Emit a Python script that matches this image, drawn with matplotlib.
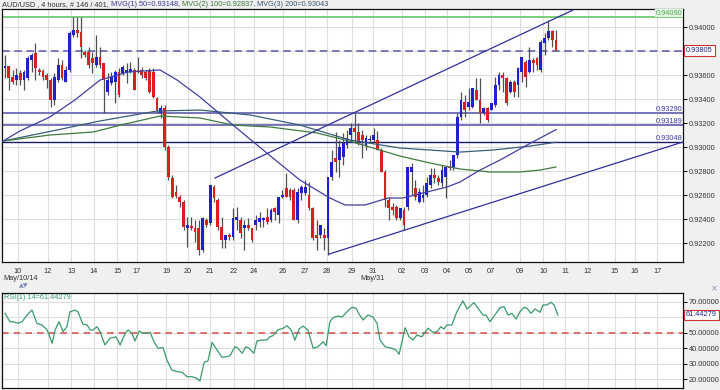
import matplotlib
matplotlib.use('Agg')
import matplotlib.pyplot as plt
import matplotlib.transforms as mtransforms
import numpy as np

# ---------------- data ----------------
opens = [0.93661, 0.93678, 0.93586, 0.93561, 0.93620, 0.93561, 0.93578, 0.93728, 0.93786, 0.93645,
         0.93636, 0.93603, 0.93561, 0.93395, 0.93561, 0.93686, 0.93545, 0.93645, 0.93936, 0.93978,
         0.93961, 0.93795, 0.93795, 0.93745, 0.93686, 0.93753, 0.93703, 0.93461, 0.93536, 0.93545,
         0.93628, 0.93620, 0.93620, 0.93628, 0.93645, 0.93645, 0.93645, 0.93628, 0.93645, 0.93628,
         0.93411, 0.93286, 0.93328, 0.93003, 0.92745, 0.92628, 0.92586, 0.92545, 0.92328, 0.92345,
         0.92328, 0.92328, 0.92145, 0.92395, 0.92370, 0.92670, 0.92561, 0.92336, 0.92228, 0.92270,
         0.92253, 0.92395, 0.92395, 0.92328, 0.92353, 0.92328, 0.92353, 0.92378, 0.92395, 0.92420,
         0.92395, 0.92495, 0.92436, 0.92586, 0.92661, 0.92645, 0.92645, 0.92395, 0.92620, 0.92620,
         0.92603, 0.92495, 0.92270, 0.92270, 0.92270, 0.92245, 0.92753, 0.92911, 0.92895, 0.92920,
         0.93020, 0.93103, 0.93161, 0.93128, 0.93103, 0.93020, 0.93061, 0.93061, 0.93061, 0.92978,
         0.92795, 0.92561, 0.92503, 0.92503, 0.92411, 0.92478, 0.92503, 0.92795, 0.92661, 0.92545,
         0.92578, 0.92603, 0.92686, 0.92770, 0.92745, 0.92703, 0.92753, 0.92836, 0.92828, 0.92936,
         0.93253, 0.93378, 0.93336, 0.93336, 0.93478, 0.93395, 0.93286, 0.93328, 0.93311, 0.93353,
         0.93520, 0.93603, 0.93578, 0.93461, 0.93545, 0.93520, 0.93628, 0.93711, 0.93628, 0.93728,
         0.93745, 0.93645, 0.93870, 0.93911, 0.93970, 0.93895]
highs = [0.93770, 0.93678, 0.93645, 0.93661, 0.93645, 0.93645, 0.93761, 0.93786, 0.93870, 0.93661,
         0.93653, 0.93620, 0.93578, 0.93620, 0.93745, 0.93728, 0.93678, 0.93970, 0.94086, 0.94086,
         0.94086, 0.93811, 0.93836, 0.93795, 0.93936, 0.93836, 0.93703, 0.93620, 0.93628, 0.93645,
         0.93661, 0.93686, 0.93703, 0.93711, 0.93661, 0.93753, 0.93670, 0.93645, 0.93661, 0.93661,
         0.93420, 0.93353, 0.93353, 0.93020, 0.92770, 0.92686, 0.92603, 0.92561, 0.92420, 0.92420,
         0.92395, 0.92395, 0.92420, 0.92411, 0.92686, 0.92686, 0.92578, 0.92420, 0.92270, 0.92286,
         0.92495, 0.92503, 0.92420, 0.92395, 0.92411, 0.92328, 0.92436, 0.92461, 0.92420, 0.92495,
         0.92495, 0.92503, 0.92586, 0.92645, 0.92786, 0.92661, 0.92661, 0.92661, 0.92686, 0.92728,
         0.92711, 0.92503, 0.92395, 0.92353, 0.92328, 0.92753, 0.92978, 0.93128, 0.93061, 0.93120,
         0.93145, 0.93203, 0.93286, 0.93203, 0.93145, 0.93103, 0.93103, 0.93161, 0.93136, 0.92995,
         0.92811, 0.92586, 0.92536, 0.92520, 0.92495, 0.92503, 0.92836, 0.92870, 0.92728, 0.92661,
         0.92686, 0.92753, 0.92828, 0.92828, 0.92770, 0.92853, 0.92836, 0.92895, 0.92936, 0.93286,
         0.93461, 0.93436, 0.93495, 0.93495, 0.93578, 0.93578, 0.93336, 0.93336, 0.93370, 0.93586,
         0.93628, 0.93628, 0.93586, 0.93561, 0.93561, 0.93670, 0.93753, 0.93728, 0.93836, 0.93745,
         0.93753, 0.93895, 0.93953, 0.94061, 0.93978, 0.93978]
lows = [0.93578, 0.93478, 0.93528, 0.93520, 0.93520, 0.93478, 0.93561, 0.93628, 0.93561, 0.93603,
        0.93561, 0.93495, 0.93336, 0.93353, 0.93545, 0.93561, 0.93545, 0.93628, 0.93920, 0.93920,
        0.93745, 0.93753, 0.93661, 0.93620, 0.93670, 0.93661, 0.93286, 0.93436, 0.93520, 0.93370,
        0.93420, 0.93603, 0.93536, 0.93620, 0.93478, 0.93620, 0.93578, 0.93561, 0.93453, 0.93411,
        0.93286, 0.93245, 0.92978, 0.92728, 0.92578, 0.92578, 0.92503, 0.92311, 0.92170, 0.92311,
        0.92211, 0.92103, 0.92128, 0.92336, 0.92353, 0.92545, 0.92311, 0.92161, 0.92161, 0.92228,
        0.92228, 0.92311, 0.92245, 0.92145, 0.92311, 0.92211, 0.92311, 0.92336, 0.92336, 0.92361,
        0.92378, 0.92395, 0.92370, 0.92578, 0.92586, 0.92561, 0.92395, 0.92370, 0.92561, 0.92603,
        0.92478, 0.92228, 0.92145, 0.92245, 0.92145, 0.92103, 0.92728, 0.92795, 0.92753, 0.92853,
        0.92995, 0.93061, 0.93036, 0.93020, 0.92911, 0.92978, 0.93036, 0.93045, 0.92978, 0.92795,
        0.92503, 0.92395, 0.92436, 0.92395, 0.92395, 0.92311, 0.92478, 0.92603, 0.92561, 0.92536,
        0.92545, 0.92586, 0.92661, 0.92703, 0.92686, 0.92670, 0.92578, 0.92811, 0.92811, 0.92911,
        0.93228, 0.93253, 0.93311, 0.93328, 0.93395, 0.93203, 0.93270, 0.93211, 0.93311, 0.93336,
        0.93478, 0.93461, 0.93353, 0.93453, 0.93420, 0.93420, 0.93545, 0.93503, 0.93620, 0.93628,
        0.93645, 0.93628, 0.93770, 0.93895, 0.93836, 0.93803]
closes = [0.93678, 0.93578, 0.93545, 0.93603, 0.93561, 0.93628, 0.93745, 0.93770, 0.93661, 0.93628,
          0.93586, 0.93561, 0.93395, 0.93586, 0.93686, 0.93578, 0.93645, 0.93953, 0.93978, 0.93953,
          0.93836, 0.93770, 0.93686, 0.93703, 0.93753, 0.93686, 0.93561, 0.93561, 0.93586, 0.93628,
          0.93436, 0.93670, 0.93645, 0.93653, 0.93478, 0.93628, 0.93603, 0.93578, 0.93461, 0.93420,
          0.93311, 0.93328, 0.93003, 0.92753, 0.92586, 0.92595, 0.92545, 0.92336, 0.92353, 0.92328,
          0.92295, 0.92145, 0.92411, 0.92353, 0.92686, 0.92578, 0.92336, 0.92228, 0.92270, 0.92253,
          0.92411, 0.92420, 0.92286, 0.92353, 0.92328, 0.92228, 0.92395, 0.92411, 0.92411, 0.92378,
          0.92478, 0.92461, 0.92586, 0.92603, 0.92586, 0.92586, 0.92395, 0.92628, 0.92670, 0.92670,
          0.92495, 0.92245, 0.92245, 0.92353, 0.92245, 0.92753, 0.92878, 0.92878, 0.93003, 0.93036,
          0.93078, 0.93161, 0.93128, 0.93045, 0.93061, 0.93078, 0.93070, 0.93103, 0.92978, 0.92795,
          0.92561, 0.92495, 0.92478, 0.92411, 0.92495, 0.92353, 0.92836, 0.92836, 0.92586, 0.92628,
          0.92603, 0.92703, 0.92770, 0.92745, 0.92711, 0.92811, 0.92836, 0.92828, 0.92936, 0.93253,
          0.93395, 0.93311, 0.93378, 0.93495, 0.93395, 0.93286, 0.93328, 0.93228, 0.93370, 0.93520,
          0.93603, 0.93578, 0.93370, 0.93545, 0.93461, 0.93661, 0.93753, 0.93586, 0.93728, 0.93703,
          0.93686, 0.93878, 0.93911, 0.93970, 0.93895, 0.93805]

# moving averages (sampled along the drawn curves: bar position, value)
ma50_pos = [-0.5, 3.9, 11.8, 18.4, 25.0, 32.4, 40.8, 45.3, 51.3, 60.0, 68.9, 77.6, 85.5, 89.5,
            94.7, 100.8, 104.7, 116.3, 119.7, 125.0, 130.3, 137.4, 145.0]
ma50_val = [0.93053, 0.93136, 0.93253, 0.93395, 0.93561, 0.93628, 0.93645, 0.93561, 0.93420,
            0.93186, 0.92953, 0.92728, 0.92578, 0.92520, 0.92520, 0.92578, 0.92578, 0.92670,
            0.92711, 0.92811, 0.92895, 0.93020, 0.93148]
ma100_pos = [-0.5, 11.8, 23.2, 31.6, 40.8, 51.3, 60.0, 69.7, 82.1, 91.6, 103.9, 111.8, 119.7,
             127.6, 135.5, 140.8, 145.0]
ma100_val = [0.93053, 0.93103, 0.93128, 0.93195, 0.93261, 0.93245, 0.93186, 0.93170, 0.93120,
             0.93045, 0.92928, 0.92870, 0.92820, 0.92795, 0.92795, 0.92811, 0.92837]
ma200_pos = [-0.5, 13.7, 25.0, 40.0, 51.3, 64.5, 77.6, 90.8, 103.9, 119.7, 128.4, 138.2, 145.0]
ma200_val = [0.93053, 0.93145, 0.93220, 0.93303, 0.93311, 0.93270, 0.93186, 0.93061, 0.92995,
             0.92961, 0.92978, 0.93011, 0.93043]

# trend channel (bar position, price)
upper_pos = [55.26, 149.5]
upper_val = [0.92745, 0.94145]
lower_pos = [85.26, 178.4]
lower_val = [0.92111, 0.93045]

# horizontal levels
level_green = 0.94090
level_last = 0.93805
levels_blue = [0.93290, 0.93189]
level_navy = 0.93048

# RSI (bar position, value)
rsi_pos = [0, 1.3, 2.1, 3.4, 4.5, 5.8, 7.1, 8.4, 9.7, 11.1, 12.4, 13.2, 14.2, 15.3, 16.3, 17.1,
           18.4, 19.2, 20.5, 21.6, 22.4, 23.2, 24.2, 25.0, 26.3, 27.6, 29.2, 30.3, 31.6, 32.4,
           33.4, 34.2, 35.3, 36.3, 37.4, 38.2, 39.2, 40.3, 41.6, 42.6, 43.9, 45.3, 46.6, 47.9,
           49.2, 50.5, 51.3, 52.4, 53.4, 54.5, 55.5, 57.1, 58.4, 59.2, 60.5, 61.3, 62.4, 63.4,
           64.2, 65.5, 66.3, 67.6, 68.9, 69.7, 70.5, 71.8, 73.2, 74.2, 75.3, 76.3, 77.4, 78.4,
           79.7, 81.1, 82.4, 83.7, 84.5, 85.5, 86.3, 87.6, 88.7, 90.0, 91.3, 92.4, 93.2, 94.2,
           95.5, 96.8, 97.9, 98.7, 100.0, 101.8, 102.9, 103.7, 105.3, 106.3, 107.4, 108.4, 109.7,
           111.3, 112.6, 113.7, 114.7, 115.5, 116.3, 117.6, 118.9, 120.5, 121.6, 123.4, 124.5,
           125.8, 126.6, 127.6, 128.9, 130.3, 131.3, 132.4, 133.4, 134.5, 135.5, 136.6, 137.4,
           138.4, 139.5, 140.8, 141.6, 142.6, 143.7, 144.5, 145.5]
rsi_val = [62.5, 57.1, 57.1, 56.1, 57.1, 61.4, 64.6, 56.1, 55.0, 51.8, 43.2, 51.8, 57.1, 50.7,
           53.9, 63.5, 64.6, 63.5, 55.6, 55.0, 51.8, 51.8, 53.9, 50.7, 42.1, 46.4, 47.4, 42.1,
           49.6, 51.8, 49.6, 44.7, 51.1, 49.6, 49.6, 50.3, 44.2, 40.0, 40.4, 32.4, 26.0, 24.9,
           24.5, 21.7, 21.7, 20.6, 18.9, 30.9, 31.8, 43.8, 40.0, 34.2, 34.6, 35.2, 41.0, 40.0,
           36.8, 41.0, 40.0, 36.8, 44.7, 45.3, 45.3, 47.4, 48.1, 51.8, 52.9, 54.5, 51.8, 45.3,
           52.4, 54.3, 51.8, 40.0, 41.0, 44.2, 41.6, 57.1, 59.7, 60.8, 60.1, 63.5, 66.4, 65.7,
           61.9, 58.2, 61.4, 60.3, 56.1, 45.3, 41.0, 40.0, 38.9, 36.1, 53.2, 47.4, 45.3, 48.5,
           47.4, 52.9, 50.3, 50.7, 53.9, 52.4, 55.0, 55.0, 63.5, 70.5, 65.3, 69.4, 65.7, 61.4,
           61.4, 57.1, 61.4, 66.1, 66.8, 61.4, 62.5, 58.8, 63.5, 66.4, 65.7, 62.5, 65.3, 63.2,
           67.9, 67.9, 69.6, 67.9, 61.44]
rsi_last = 61.44279

# x-axis day labels
day_pos = [3.4, 11.3, 17.4, 23.4, 29.5, 34.7, 42.4, 48.2, 53.9, 60.3, 65.5, 73.2, 78.9, 84.7,
           91.3, 96.8, 104.5, 110.5, 116.3, 122.1, 127.9, 135.5, 141.6, 147.4, 153.4, 160.5,
           165.8, 171.6]
day_labels = ['10', '12', '13', '14', '15', '17', '19', '20', '21', '22', '24', '26', '27', '28',
              '29', '31', '02', '03', '04', '05', '07', '09', '10', '11', '12', '15', '16', '17']

price_ticks = [0.922, 0.924, 0.926, 0.928, 0.930, 0.932, 0.934, 0.936, 0.938, 0.940]
rsi_ticks = [20, 30, 40, 50, 60, 70]

# ---------------- drawing ----------------
FONT = ['Liberation Sans', 'DejaVu Sans']
plt.rcParams['font.family'] = FONT
FS = 5.3

W, H = 720, 390
fig = plt.figure(figsize=(7.2, 3.9), dpi=100, facecolor='#f0f0f0')
ax = fig.add_axes([2 / W, 1 - 262 / H, 681 / W, 253 / H])
rax = fig.add_axes([2 / W, 1 - 388 / H, 681 / W, 95 / H])

o = np.array(opens); h = np.array(highs); l = np.array(lows); c = np.array(closes)
idx = np.arange(len(o))
up = c >= o
body_col = np.where(up, '#2020c8', '#d82020')
bottom = np.minimum(o, c)
height = np.maximum(np.abs(c - o), 0.000025)

ax.set_facecolor('white')
ax.set_xlim(-0.79, 178.42)
ax.set_ylim(0.92045, 0.94153)
ax.set_xticks(day_pos)
ax.set_xticklabels(day_labels)
ax.set_yticks(price_ticks)
ax.set_yticklabels(['' if abs(v - 0.938) < 1e-9 else f'{v:.5f}' for v in price_ticks])
ax.yaxis.tick_right()
ax.tick_params(axis='y', length=3, width=0.7, pad=1, labelsize=FS, labelcolor='#333333')
ax.tick_params(axis='x', length=0, pad=4, labelsize=FS, labelcolor='#333333')
ax.grid(True, color='#dedede', lw=0.8)
ax.set_axisbelow(True)
for s in ax.spines.values():
    s.set_color('#111111'); s.set_linewidth(0.9)

# horizontal levels
ax.axhline(level_green, color='#7ccc7c', lw=1.4, zorder=2)
ax.axhline(level_last, color='#5a5aae', lw=1.1, ls=(0, (5, 3)), zorder=2)
for lv in levels_blue:
    ax.axhline(lv, color='#7474b8', lw=1.4, zorder=2)
ax.axhline(level_navy, color='#1c1c66', lw=1.0, zorder=2)

# candles
ax.vlines(idx, l, h, color='#505050', lw=0.9, zorder=3)
ax.bar(idx, height, width=0.72, bottom=bottom, color=body_col, lw=0, zorder=4)

# moving averages
ax.plot(ma200_pos, ma200_val, color='#3a5f7a', lw=0.9, zorder=5)
ax.plot(ma100_pos, ma100_val, color='#3f7a3f', lw=0.9, zorder=5)
ax.plot(ma50_pos, ma50_val, color='#4040a0', lw=0.9, zorder=5)

# trend channel
ax.plot(upper_pos, upper_val, color='#30309a', lw=0.9, zorder=5)
ax.plot(lower_pos, lower_val, color='#30309a', lw=0.9, zorder=5, clip_on=False)

# level labels inside panel
xr = 178.2
ax.text(xr, level_green, f'{level_green:.5f}', ha='right', va='bottom', fontsize=FS,
        color='#4caa4c', zorder=6,
        bbox=dict(boxstyle='square,pad=0.1', facecolor='#e6f4e6', edgecolor='none'))
for lv in levels_blue + [level_navy]:
    ax.text(xr, lv, f'{lv:.5f}', ha='right', va='bottom', fontsize=FS, color='#3a3aa8', zorder=6)

tr = mtransforms.blended_transform_factory(ax.transAxes, ax.transData)
ax.text(1.0045, level_last, f'{level_last:.5f}', transform=tr, ha='left', va='center',
        fontsize=FS, color='#22228a', clip_on=False,
        bbox=dict(boxstyle='square,pad=0.25', facecolor='white', edgecolor='#cc3333', lw=0.8))

# RSI panel
rax.set_facecolor('white')
rax.set_xlim(-0.79, 178.42)
rax.set_ylim(14.4, 75.6)
rax.set_xticks(day_pos)
rax.set_xticklabels([])
rax.set_yticks(rsi_ticks)
rax.set_yticklabels(['' if v == 60 else f'{v:.5f}' for v in rsi_ticks])
rax.yaxis.tick_right()
rax.tick_params(axis='y', length=3, width=0.7, pad=1, labelsize=FS, labelcolor='#333333')
rax.tick_params(axis='x', length=0)
rax.grid(True, color='#dedede', lw=0.8)
rax.set_axisbelow(True)
for s in rax.spines.values():
    s.set_color('#111111'); s.set_linewidth(0.9)
rax.axhline(50, color='#d85a5a', lw=1.2, ls=(0, (4, 3)), zorder=2)
rax.plot(rsi_pos, rsi_val, color='#3a9a6a', lw=0.9, zorder=3)
rax.text(0.003, 0.985, f'RSI(1) 14={rsi_last:.5f}', transform=rax.transAxes, ha='left',
         va='top', fontsize=FS, color='#3a9a6a')
rtr = mtransforms.blended_transform_factory(rax.transAxes, rax.transData)
rax.text(1.0045, rsi_last, f'{rsi_last:.5f}', transform=rtr, ha='left', va='center',
         fontsize=FS, color='#22228a', clip_on=False,
         bbox=dict(boxstyle='square,pad=0.25', facecolor='white', edgecolor='#cc3333', lw=0.8))

# header with coloured parts
parts = [('AUD/USD , 4 hours, # 146 / 401, ', '#333333'),
         ('MVG(1) 50=0.93148, ', '#3a3aa0'),
         ('MVG(2) 100=0.92837, ', '#3a7a3a'),
         ('MVG(3) 200=0.93043', '#3a5570')]
t = fig.text(2 / W, 1 - 4.5 / H, parts[0][0], color=parts[0][1], fontsize=FS, va='center')
for txt, col in parts[1:]:
    t = fig.text(0, 0, txt, color=col, fontsize=FS, va='center',
                 transform=mtransforms.offset_copy(t.get_transform(), fig=fig, x=0, y=0))
    break
fig.canvas.draw()
# place remaining parts sequentially
fig.texts.pop()
x_px = 2
renderer = fig.canvas.get_renderer()
fig.texts.clear()
for txt, col in parts:
    tt = fig.text(x_px / W, 1 - 4.5 / H, txt, color=col, fontsize=FS, va='center', ha='left')
    bb = tt.get_window_extent(renderer=renderer)
    x_px += bb.width

# second line of date labels
fig.text(3 / W, 1 - 279 / H, 'May/10/14', fontsize=FS, color='#333333', va='center')
fig.text(360 / W, 1 - 279 / H, 'May/31', fontsize=FS, color='#333333', va='center')
fig.text(19 / W, 1 - 286 / H, '▲▼', fontsize=4.5, color='#8090b8', va='center',
         family='DejaVu Sans')
fig.text(711 / W, 1 - 289 / H, '×', fontsize=6, color='#8090b8', va='center',
         family='DejaVu Sans')

fig.savefig('out.png', dpi=100, facecolor=fig.get_facecolor())
